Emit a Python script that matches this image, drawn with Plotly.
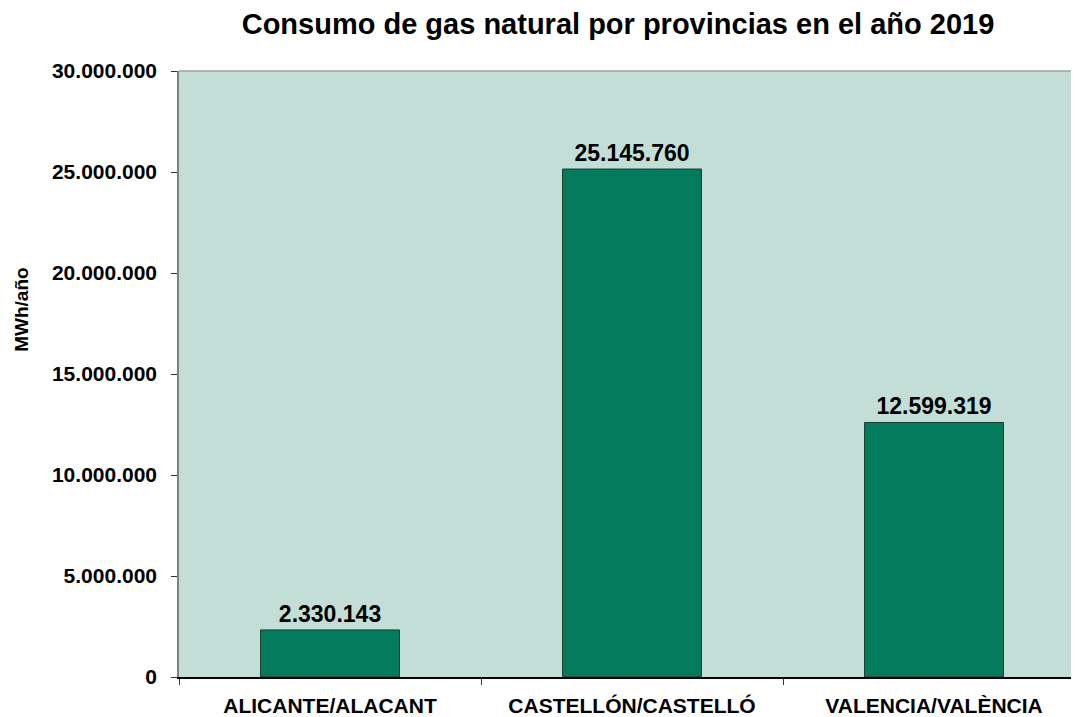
import plotly.graph_objects as go

categories = ["ALICANTE/ALACANT", "CASTELLÓN/CASTELLÓ", "VALENCIA/VALÈNCIA"]
values = [2330143, 25145760, 12599319]
value_labels = ["2.330.143", "25.145.760", "12.599.319"]
y_tickvals = [0, 5000000, 10000000, 15000000, 20000000, 25000000, 30000000]
y_ticktext = ["0", "5.000.000", "10.000.000", "15.000.000", "20.000.000", "25.000.000", "30.000.000"]

FONT = "Liberation Sans, Arial, sans-serif"

fig = go.Figure()
fig.add_trace(go.Bar(
    x=categories, y=values,
    text=["<b>%s</b>" % t for t in value_labels], textposition="outside", cliponaxis=False,
    textfont=dict(family=FONT, size=23, color="#000000"),
    marker=dict(color="#037B5C", line=dict(color="#1E3A30", width=1)),
    width=0.46,
))

# page has an 8px body margin; figure compensates for it
fig.update_layout(
    width=1071, height=709,
    margin=dict(l=171, r=0, t=63, b=37),
    paper_bgcolor="white", plot_bgcolor="#C2DED6",
    showlegend=False,
    font=dict(family=FONT, color="#000000"),
    title=dict(text="<b>Consumo de gas natural por provincias en el año 2019</b>",
               x=610/1071, xanchor="center", y=1-16/709, yanchor="middle",
               font=dict(family=FONT, size=29, color="#000000")),
    xaxis=dict(range=[-0.5, 2.48], showgrid=False, showline=True, linecolor="#000000", linewidth=1.5,
               ticks="outside", tickson="boundaries", ticklen=6, tickcolor="#333333",
               tickfont=dict(family=FONT, size=21, color="#000000"),
               tickprefix="<b>", ticksuffix="</b>", ticklabelstandoff=9),
    yaxis=dict(range=[0, 30000000], tickvals=y_tickvals, ticktext=["<b>%s</b>" % t for t in y_ticktext],
               showgrid=False, zeroline=False, showline=True, linecolor="#808080", linewidth=1.5,
               ticks="outside", ticklen=6, tickcolor="#333333",
               tickfont=dict(family=FONT, size=21, color="#000000"), ticklabelstandoff=10),
)

fig.add_shape(type="line", xref="paper", yref="paper", x0=0, x1=1, y0=1, y1=1,
              line=dict(color="#A0A0A0", width=1.5))

fig.add_annotation(text="<b>MWh/año</b>", textangle=-90, xref="paper", yref="paper",
                   x=(14-171)/900, y=(672-303)/609, xanchor="center", yanchor="middle",
                   showarrow=False, font=dict(family=FONT, size=19, color="#000000"))

fig.write_html("out.html")
